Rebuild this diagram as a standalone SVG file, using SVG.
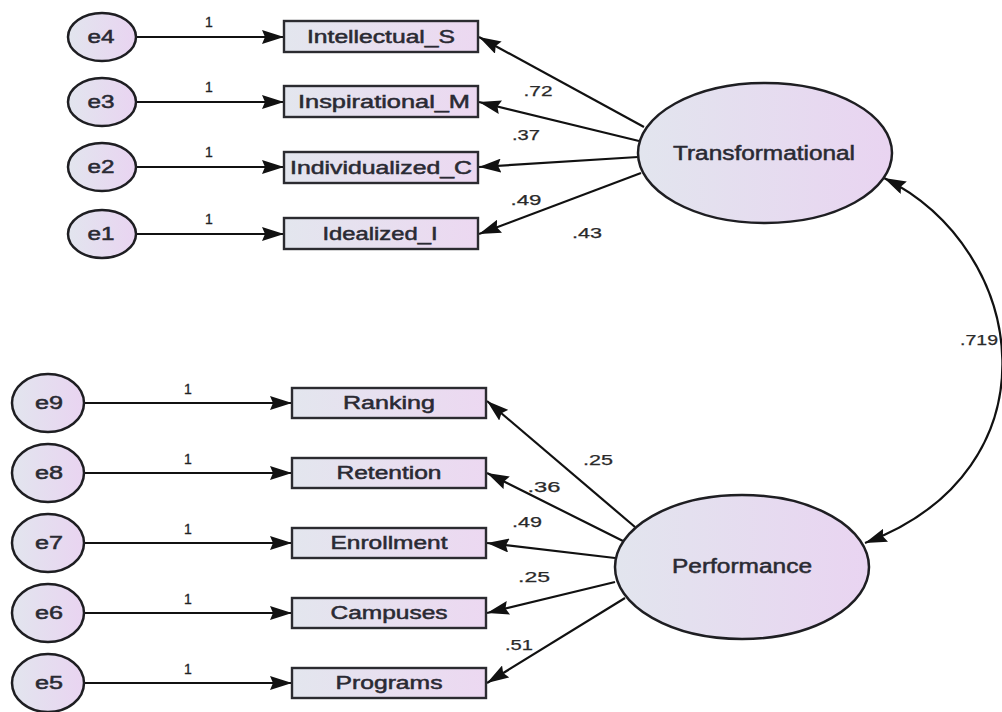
<svg xmlns="http://www.w3.org/2000/svg" width="1002" height="712" viewBox="0 0 1002 712">
  <defs>
    <linearGradient id="fillBox" x1="0" y1="0" x2="1" y2="0">
      <stop offset="0" stop-color="#e3e6ee"/>
      <stop offset="1" stop-color="#ecd8f1"/>
    </linearGradient>
    <linearGradient id="fillOval" x1="0" y1="0" x2="1" y2="0">
      <stop offset="0" stop-color="#e2e5ee"/>
      <stop offset="1" stop-color="#e9d4f1"/>
    </linearGradient>
    <marker id="ah" viewBox="0 0 22 14" refX="22" refY="7" markerWidth="22" markerHeight="14" orient="auto" markerUnits="userSpaceOnUse">
      <path d="M0,0 L22,7 L0,14 L3,7 z" fill="#111"/>
    </marker>
    <marker id="ah2" viewBox="0 0 22 14" refX="22" refY="7" markerWidth="22" markerHeight="14" orient="auto-start-reverse" markerUnits="userSpaceOnUse">
      <path d="M0,0 L22,7 L0,14 L3,7 z" fill="#111"/>
    </marker>
  </defs>
  <style>
    .obs { fill: url(#fillBox); stroke: #2b2b30; stroke-width: 2.4; }
    .lat { fill: url(#fillOval); stroke: #1e1e22; stroke-width: 2.5; }
    .err { fill: url(#fillOval); stroke: #1e1e22; stroke-width: 2.5; }
    text { font-family: "Liberation Sans", Arial, sans-serif; text-anchor: middle; }
    .lbl { font-size: 18px; fill: #2a2a33; stroke: #2a2a33; stroke-width: 0.5; }
    .big { font-size: 20px; fill: #2a2a33; stroke: #2a2a33; stroke-width: 0.5; }
    .elbl { font-size: 18px; fill: #2a2a33; stroke: #2a2a33; stroke-width: 0.5; }
    .num { font-size: 15px; fill: #2a2a2a; stroke: #2a2a2a; stroke-width: 0.25; }
    .one { font-size: 14px; fill: #222; stroke: #222; stroke-width: 0.3; }
    .edge { fill: none; stroke: #111; stroke-width: 2.2; marker-end: url(#ah); }
    .cov { fill: none; stroke: #111; stroke-width: 2.2; marker-start: url(#ah2); marker-end: url(#ah2); }
  </style>

  <!-- connectors -->
  <g id="connectors">
    <!-- error terms to indicators -->
    <path class="edge" d="M136,37 L284,37"/>
    <path class="edge" d="M136,102 L284,102"/>
    <path class="edge" d="M136,167 L284,167"/>
    <path class="edge" d="M136,234 L284,234"/>
    <path class="edge" d="M84,403 L292,403"/>
    <path class="edge" d="M84,473 L292,473"/>
    <path class="edge" d="M84,543 L292,543"/>
    <path class="edge" d="M84,613 L292,613"/>
    <path class="edge" d="M84,683 L292,683"/>
    <!-- Transformational loadings -->
    <path class="edge" d="M644,127 L479,37"/>
    <path class="edge" d="M639,141 L479,102"/>
    <path class="edge" d="M638,157 L479,167"/>
    <path class="edge" d="M641,173 L479,234"/>
    <!-- Performance loadings -->
    <path class="edge" d="M635,527 L487,401"/>
    <path class="edge" d="M623,541 L487,473"/>
    <path class="edge" d="M615,558 L487,543"/>
    <path class="edge" d="M615,582 L487,613"/>
    <path class="edge" d="M625,598 L487,683"/>
    <!-- covariance -->
    <path class="cov" d="M884,178 C1030,250 1060,470 865,543"/>

    <!-- fixed regression weights -->
    <text class="one" x="209" y="27">1</text>
    <text class="one" x="209" y="92">1</text>
    <text class="one" x="209" y="157">1</text>
    <text class="one" x="209" y="224">1</text>
    <text class="one" x="188" y="394">1</text>
    <text class="one" x="188" y="464">1</text>
    <text class="one" x="188" y="534">1</text>
    <text class="one" x="188" y="604">1</text>
    <text class="one" x="188" y="674">1</text>

    <!-- estimates -->
    <text class="num" x="538" y="96" textLength="29" lengthAdjust="spacingAndGlyphs">.72</text>
    <text class="num" x="526" y="140" textLength="28" lengthAdjust="spacingAndGlyphs">.37</text>
    <text class="num" x="526" y="205" textLength="31" lengthAdjust="spacingAndGlyphs">.49</text>
    <text class="num" x="587" y="238" textLength="30" lengthAdjust="spacingAndGlyphs">.43</text>
    <text class="num" x="598" y="465" textLength="30" lengthAdjust="spacingAndGlyphs">.25</text>
    <text class="num" x="544" y="492" textLength="33" lengthAdjust="spacingAndGlyphs">.36</text>
    <text class="num" x="527" y="527" textLength="30" lengthAdjust="spacingAndGlyphs">.49</text>
    <text class="num" x="534" y="582" textLength="32" lengthAdjust="spacingAndGlyphs">.25</text>
    <text class="num" x="519" y="650" textLength="28" lengthAdjust="spacingAndGlyphs">.51</text>
    <text class="num" x="979" y="345" textLength="38" lengthAdjust="spacingAndGlyphs">.719</text>
  </g>

  <!-- error terms -->
  <g id="e4"><ellipse class="err" cx="102" cy="37" rx="34" ry="24"/><text class="elbl" x="101" y="43" textLength="27" lengthAdjust="spacingAndGlyphs">e4</text></g>
  <g id="e3"><ellipse class="err" cx="102" cy="102" rx="34" ry="24"/><text class="elbl" x="101" y="108" textLength="27" lengthAdjust="spacingAndGlyphs">e3</text></g>
  <g id="e2"><ellipse class="err" cx="102" cy="167" rx="34" ry="24"/><text class="elbl" x="101" y="173" textLength="27" lengthAdjust="spacingAndGlyphs">e2</text></g>
  <g id="e1"><ellipse class="err" cx="102" cy="234" rx="34" ry="24"/><text class="elbl" x="101" y="240" textLength="27" lengthAdjust="spacingAndGlyphs">e1</text></g>
  <g id="e9"><ellipse class="err" cx="48" cy="403" rx="36" ry="29"/><text class="elbl" x="49" y="409" textLength="28" lengthAdjust="spacingAndGlyphs">e9</text></g>
  <g id="e8"><ellipse class="err" cx="48" cy="473" rx="36" ry="29"/><text class="elbl" x="49" y="479" textLength="28" lengthAdjust="spacingAndGlyphs">e8</text></g>
  <g id="e7"><ellipse class="err" cx="48" cy="543" rx="36" ry="29"/><text class="elbl" x="49" y="549" textLength="28" lengthAdjust="spacingAndGlyphs">e7</text></g>
  <g id="e6"><ellipse class="err" cx="48" cy="613" rx="36" ry="29"/><text class="elbl" x="49" y="619" textLength="28" lengthAdjust="spacingAndGlyphs">e6</text></g>
  <g id="e5"><ellipse class="err" cx="48" cy="683" rx="36" ry="29"/><text class="elbl" x="49" y="689" textLength="28" lengthAdjust="spacingAndGlyphs">e5</text></g>

  <!-- observed indicators -->
  <g id="intellectual_s"><rect class="obs" x="284" y="21" width="194" height="31"/><text class="lbl" x="381" y="43" textLength="148" lengthAdjust="spacingAndGlyphs">Intellectual_S</text></g>
  <g id="inspirational_m"><rect class="obs" x="284" y="86" width="194" height="31"/><text class="lbl" x="384" y="108" textLength="172" lengthAdjust="spacingAndGlyphs">Inspirational_M</text></g>
  <g id="individualized_c"><rect class="obs" x="284" y="152" width="194" height="31"/><text class="lbl" x="381" y="174" textLength="182" lengthAdjust="spacingAndGlyphs">Individualized_C</text></g>
  <g id="idealized_i"><rect class="obs" x="284" y="218" width="194" height="31"/><text class="lbl" x="380" y="240" textLength="115" lengthAdjust="spacingAndGlyphs">Idealized_I</text></g>

  <g id="ranking"><rect class="obs" x="292" y="388" width="194" height="30"/><text class="lbl" x="389" y="409" textLength="92" lengthAdjust="spacingAndGlyphs">Ranking</text></g>
  <g id="retention"><rect class="obs" x="292" y="458" width="194" height="30"/><text class="lbl" x="389" y="479" textLength="105" lengthAdjust="spacingAndGlyphs">Retention</text></g>
  <g id="enrollment"><rect class="obs" x="292" y="528" width="194" height="30"/><text class="lbl" x="389" y="549" textLength="117" lengthAdjust="spacingAndGlyphs">Enrollment</text></g>
  <g id="campuses"><rect class="obs" x="292" y="598" width="194" height="30"/><text class="lbl" x="389" y="619" textLength="117" lengthAdjust="spacingAndGlyphs">Campuses</text></g>
  <g id="programs"><rect class="obs" x="292" y="668" width="194" height="30"/><text class="lbl" x="389" y="689" textLength="107" lengthAdjust="spacingAndGlyphs">Programs</text></g>

  <!-- latent constructs -->
  <g id="transformational"><ellipse class="lat" cx="765" cy="153" rx="127" ry="70"/><text class="big" x="764" y="160" textLength="182" lengthAdjust="spacingAndGlyphs">Transformational</text></g>
  <g id="performance"><ellipse class="lat" cx="742" cy="567" rx="127" ry="72"/><text class="big" x="742" y="573" textLength="140" lengthAdjust="spacingAndGlyphs">Performance</text></g>
</svg>
